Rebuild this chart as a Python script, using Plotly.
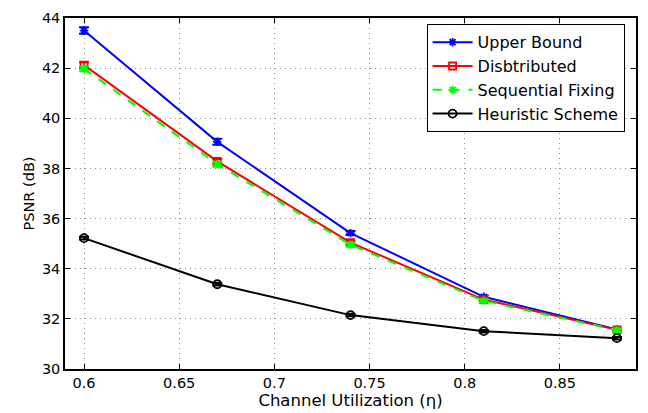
import plotly.graph_objects as go

# Channel utilization values (x axis)
eta = [0.60, 0.67, 0.74, 0.81, 0.88]

# PSNR (dB) for each scheme
upper_bound = [43.50, 39.06, 35.42, 32.88, 31.58]
distributed = [42.12, 38.28, 35.04, 32.77, 31.56]
sequential = [41.98, 38.17, 34.96, 32.72, 31.55]
heuristic = [35.22, 33.38, 32.15, 31.51, 31.23]

# Error bar half-widths
upper_err = [0.13, 0.12, 0.08, 0.05, 0.05]
distributed_err = [0.12, 0.1, 0.08, 0.06, 0.06]
sequential_err = [0.1, 0.1, 0.08, 0.06, 0.06]
heuristic_err = [0.05, 0.05, 0.05, 0.05, 0.05]

x_ticks = [0.6, 0.65, 0.7, 0.75, 0.8, 0.85]
x_tick_labels = ["0.6", "0.65", "0.7", "0.75", "0.8", "0.85"]
y_ticks = [30, 32, 34, 36, 38, 40, 42, 44]

FONT = "DejaVu Sans, Liberation Sans, sans-serif"

series = [
    ("Upper Bound", upper_bound, upper_err, "#0000ff", "solid", "asterisk-open", 7),
    ("Disbtributed", distributed, distributed_err, "#ff0000", "solid", "square-open", 7),
    ("Sequential Fixing", sequential, sequential_err, "#00ff00", "dash", "asterisk-open", 7),
    ("Heuristic Scheme", heuristic, heuristic_err, "#000000", "solid", "circle-open", 8),
]

fig = go.Figure()
for name, ys, errs, color, dash, symbol, size in series:
    fig.add_trace(go.Scatter(
        x=eta, y=ys, name=name, mode="lines+markers",
        line=dict(color=color, width=2, dash=dash),
        marker=dict(symbol=symbol, size=size, color=color,
                    line=dict(color=color, width=1.8)),
        error_y=dict(type="data", array=errs, visible=True,
                     color=color, thickness=2, width=5),
    ))

axis_common = dict(
    showline=True, linecolor="black", linewidth=1.5, mirror="ticks",
    ticks="inside", ticklen=5, tickcolor="black", tickwidth=1,
    showgrid=True, gridcolor="#8c8c8c", griddash="1px,4px", gridwidth=1,
    zeroline=False, tickfont=dict(family=FONT, size=14.5, color="black"),
)

fig.update_layout(
    width=648, height=413,
    margin=dict(l=65, r=10, t=15, b=42),
    paper_bgcolor="white", plot_bgcolor="white",
    font=dict(family=FONT, size=15, color="black"),
    xaxis=dict(range=[0.59, 0.89], tickvals=x_ticks, ticktext=x_tick_labels,
               title=dict(text="Channel Utilization (η)", standoff=0,
                          font=dict(family=FONT, size=16.5)),
               **axis_common),
    yaxis=dict(range=[30, 44], tickvals=y_ticks,
               title=dict(text="PSNR (dB)", standoff=4,
                          font=dict(family=FONT, size=14.5)),
               **axis_common),
    legend=dict(x=0.98, y=0.982, xanchor="right", yanchor="top",
                bgcolor="white", bordercolor="black", borderwidth=1,
                font=dict(family=FONT, size=16, color="black"),
                tracegroupgap=0, itemwidth=40),
    showlegend=True,
)

fig.write_html("out.html")
